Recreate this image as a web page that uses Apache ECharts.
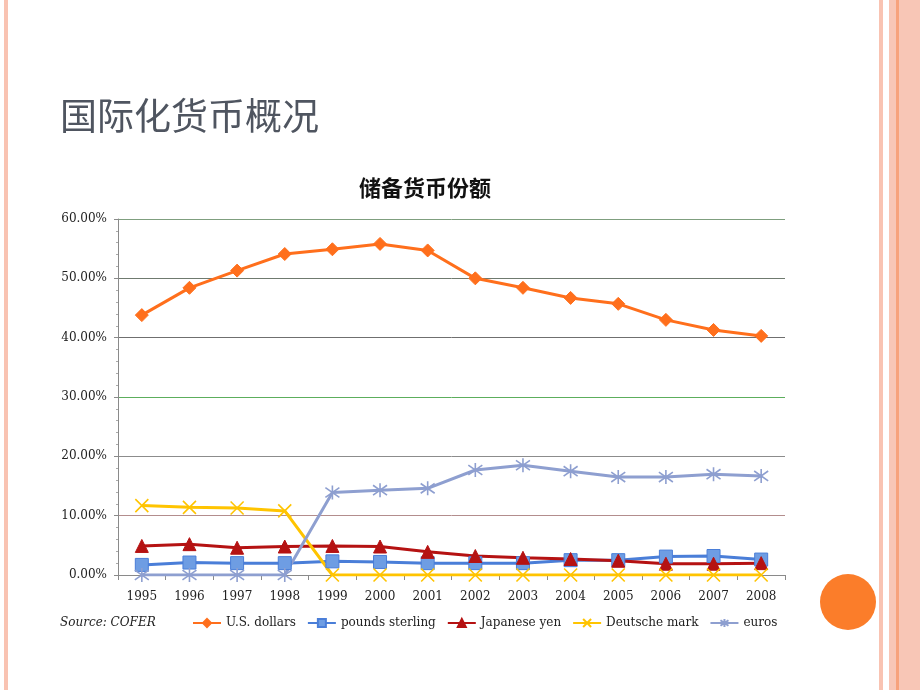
<!DOCTYPE html>
<html>
<head>
<meta charset="utf-8">
<title>储备货币份额</title>
<script src="https://cdn.jsdelivr.net/npm/echarts@6/dist/echarts.min.js"></script>
<style>
  html, body { margin: 0; padding: 0; background: #fff; }
  #main { width: 920px; height: 690px; }
</style>
</head>
<body>
<div id="main"></div>
<script>
// 数据
var years = ['1995', '1996', '1997', '1998', '1999', '2000', '2001', '2002', '2003', '2004', '2005', '2006', '2007', '2008'];
var usDollars = [43.8, 48.4, 51.3, 54.1, 54.9, 55.8, 54.7, 50.0, 48.4, 46.7, 45.7, 43.0, 41.3, 40.3];
var poundsSterling = [1.7, 2.1, 2.0, 2.0, 2.3, 2.2, 2.0, 2.0, 2.0, 2.5, 2.5, 3.1, 3.2, 2.6];
var japaneseYen = [4.9, 5.2, 4.6, 4.8, 4.9, 4.8, 3.9, 3.2, 2.9, 2.7, 2.4, 1.9, 1.9, 2.0];
var deutscheMark = [11.7, 11.4, 11.3, 10.8, 0, 0, 0, 0, 0, 0, 0, 0, 0, 0];
var euros = [0, 0, 0, 0, 13.9, 14.3, 14.6, 17.7, 18.5, 17.5, 16.5, 16.5, 17.0, 16.7];

var serif = '"DejaVu Serif", "Liberation Serif", serif';
var crossPath = 'path://M0,0L10,10M10,0L0,10';
var starPath = 'path://M0,1.5L10,8.5M10,1.5L0,8.5M5,0L5,10';

function mkSeries(name, data, color, symbol, size, fill) {
    return {
        name: name,
        type: 'line',
        data: data,
        symbol: symbol,
        symbolSize: size,
        showAllSymbol: true,
        lineStyle: { color: color, width: 3 },
        itemStyle: {
            color: fill || color,
            borderColor: color,
            borderWidth: (symbol.indexOf('path') === 0) ? 1.6 : 1
        },
        emphasis: { disabled: true }
    };
}

var myChart = echarts.init(document.getElementById('main'));

myChart.setOption({
    animation: false,
    grid: { left: 118, right: 135, top: 219, bottom: 115, containLabel: false },
    legend: {
        left: 192,
        top: 617,
        padding: 0,
        itemGap: 11,
        itemWidth: 28,
        itemHeight: 10,
        textStyle: { fontFamily: serif, fontSize: 12, color: '#222' },
        data: ['U.S. dollars', 'pounds sterling', 'Japanese yen', 'Deutsche mark', 'euros']
    },
    xAxis: {
        type: 'category',
        data: years,
        boundaryGap: true,
        axisLine: { lineStyle: { color: '#8a8a8a', width: 1 } },
        axisTick: { show: true, length: 5, lineStyle: { color: '#8a8a8a' } },
        axisLabel: { fontFamily: serif, fontSize: 12, color: '#222', margin: 16 }
    },
    yAxis: {
        type: 'value',
        min: 0,
        max: 60,
        interval: 10,
        axisLine: { show: true, lineStyle: { color: '#8a8a8a' } },
        axisTick: { show: true, length: 4, lineStyle: { color: '#8a8a8a' } },
        minorTick: { show: true, splitNumber: 5, length: 2, lineStyle: { color: '#aaa' } },
        axisLabel: {
            fontFamily: serif, fontSize: 12, color: '#222', margin: 11,
            formatter: function (v) { return v.toFixed(2) + '%'; }
        },
        splitLine: {
            lineStyle: {
                color: ['#8a8a8a', '#b38d8d', '#8c8c8c', '#5cae5c', '#6f6f6f', '#6f7a6f', '#7f9f7f'],
                width: 1
            }
        }
    },
    series: [
        mkSeries('U.S. dollars', usDollars, '#ff6f1c', 'diamond', 13),
        mkSeries('pounds sterling', poundsSterling, '#4a7ed8', 'rect', 13, '#6e9de3'),
        mkSeries('Japanese yen', japaneseYen, '#b51212', 'triangle', 13),
        mkSeries('Deutsche mark', deutscheMark, '#ffc400', crossPath, 13),
        mkSeries('euros', euros, '#8e9fd0', starPath, 14)
    ],
    graphic: [
        // 页面装饰
        { type: 'rect', shape: { x: 4, y: 0, width: 4, height: 690 }, style: { fill: '#f9c3b2' }, silent: true },
        { type: 'rect', shape: { x: 879, y: 0, width: 4, height: 690 }, style: { fill: '#f9c3b2' }, silent: true },
        { type: 'rect', shape: { x: 889, y: 0, width: 31, height: 690 }, style: { fill: '#f8c6b6' }, silent: true },
        { type: 'rect', shape: { x: 896, y: 0, width: 3, height: 690 }, style: { fill: '#f7a27c' }, silent: true },
        { type: 'circle', shape: { cx: 848, cy: 602, r: 28 }, style: { fill: '#fb7d2a' }, silent: true },
        {
            type: 'text', x: 60, y: 116, silent: true,
            style: {
                text: '国际化货币概况',
                font: '37px "Noto Sans CJK SC", sans-serif',
                fill: '#4f5560',
                verticalAlign: 'middle'
            }
        },
        {
            type: 'text', x: 425, y: 188, silent: true,
            style: {
                text: '储备货币份额',
                font: 'bold 22px "Noto Sans CJK SC", sans-serif',
                fill: '#111',
                align: 'center',
                verticalAlign: 'middle'
            }
        },
        {
            type: 'text', x: 60, y: 623, silent: true,
            style: {
                text: 'Source: COFER',
                font: 'italic 12px "DejaVu Serif", serif',
                fill: '#222',
                verticalAlign: 'middle'
            }
        }
    ]
});
</script>
</body>
</html>
